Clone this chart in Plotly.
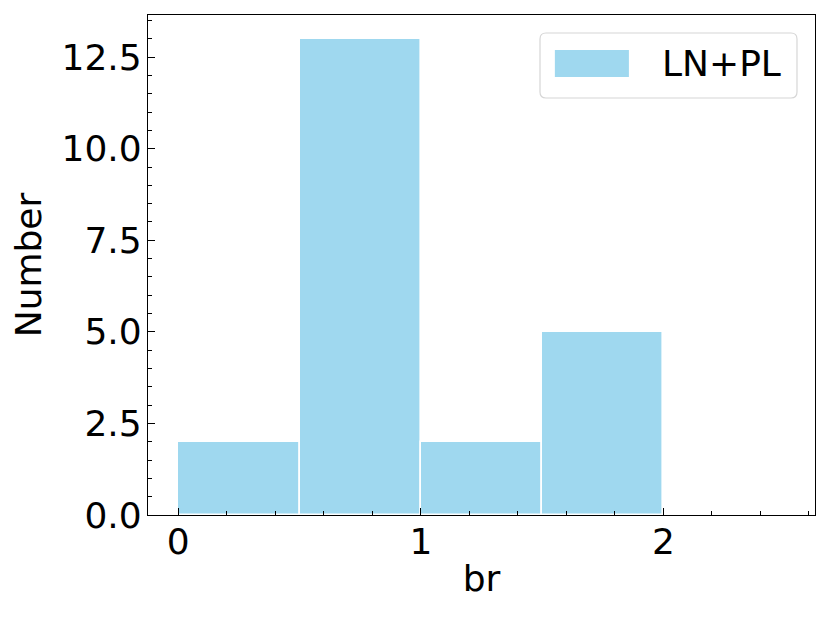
import plotly.graph_objects as go

# histogram bins (left edges) and counts
bin_left = [0.0, 0.5, 1.0, 1.5, 2.0]
bin_width = 0.5
counts = [2, 13, 2, 5, 0]
series_name = "LN+PL"

x_ticks = [0, 1, 2]
y_ticks = [0.0, 2.5, 5.0, 7.5, 10.0, 12.5]

font_family = "DejaVu Sans"
fsize = 36
fill = "rgba(135,206,235,0.8)"

fig = go.Figure()
fig.add_trace(go.Bar(
    x=bin_left, y=counts, width=bin_width, offset=0,
    name=series_name, showlegend=False,
    marker=dict(color=fill, line=dict(color="white", width=1.6)),
))

axis_common = dict(
    showgrid=False, zeroline=False,
    showline=True, linecolor="black", linewidth=1.3, mirror=True,
    ticks="inside", ticklen=7, tickwidth=1.1, tickcolor="black",
    tickfont=dict(size=fsize, color="black", family=font_family),
)

fig.update_xaxes(
    range=[-0.125, 2.625], tickvals=x_ticks,
    minor=dict(ticks="inside", ticklen=4, tickwidth=1, tickcolor="black", dtick=0.2, tick0=0),
    title=dict(text="br", font=dict(size=fsize, color="black", family=font_family), standoff=4),
    ticklabelstandoff=-5,
    **axis_common,
)
fig.update_yaxes(
    range=[0, 13.65], tickvals=y_ticks, tickformat=".1f",
    minor=dict(ticks="inside", ticklen=4, tickwidth=1, tickcolor="black", dtick=0.5, tick0=0),
    title=dict(text="Number", font=dict(size=fsize, color="black", family=font_family), standoff=12),
    ticklabelstandoff=-2,
    **axis_common,
)

# legend box drawn like matplotlib's (rounded frame, wide patch)
x0, x1, y0, y1 = 0.5877, 0.973, 0.834, 0.964
rx, ry = 0.009, 0.012
path = (f"M{x0+rx},{y0} L{x1-rx},{y0} Q{x1},{y0} {x1},{y0+ry} "
        f"L{x1},{y1-ry} Q{x1},{y1} {x1-rx},{y1} L{x0+rx},{y1} "
        f"Q{x0},{y1} {x0},{y1-ry} L{x0},{y0+ry} Q{x0},{y0} {x0+rx},{y0} Z")
fig.add_shape(type="path", path=path, xref="paper", yref="paper",
              line=dict(color="#d6d6d6", width=1.2), fillcolor="rgba(255,255,255,0.8)")
fig.add_shape(type="rect", xref="paper", yref="paper",
              x0=0.610, x1=0.721, y0=0.876, y1=0.930,
              line=dict(width=0), fillcolor=fill)
fig.add_annotation(text=series_name, xref="paper", yref="paper", x=0.7676, y=0.903,
                   xanchor="left", yanchor="middle", showarrow=False,
                   font=dict(size=fsize, color="black", family=font_family))

# page body adds an 8px offset, so margins are shifted to compensate
fig.update_layout(
    width=830, height=617,
    margin=dict(l=140, r=23, t=7, b=110),
    plot_bgcolor="white", paper_bgcolor="white",
    bargap=0,
    font=dict(family=font_family, color="black"),
)

fig.write_html("out.html")
